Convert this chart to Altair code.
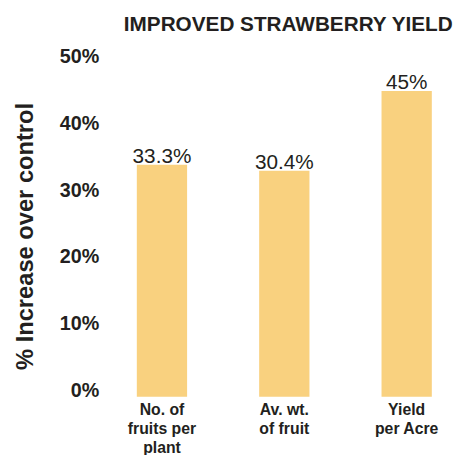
import altair as alt
import pandas as pd

categories = ["No. of|fruits per|plant", "Av. wt.|of fruit", "Yield|per Acre"]
bar_values = [34.7, 33.8, 45.7]
bar_labels = ["33.3%", "30.4%", "45%"]
y_ticks = [0, 10, 20, 30, 40, 50]

df = pd.DataFrame({"cat": categories, "value": bar_values, "label": bar_labels})

FONT = "Liberation Sans"
INK = "#231F20"

base = alt.Chart(df).encode(
    x=alt.X(
        "cat:N",
        sort=categories,
        scale=alt.Scale(paddingInner=0.589, paddingOuter=0.214),
        axis=alt.Axis(
            title=None,
            labelAngle=0,
            labelExpr="split(datum.label, '|')",
            labelFont=FONT,
            labelFontSize=16,
            labelFontWeight="bold",
            labelColor=INK,
            labelLineHeight=19,
            labelPadding=5,
            labelBaseline="top",
            ticks=False,
            domain=False,
        ),
    ),
    y=alt.Y(
        "value:Q",
        scale=alt.Scale(domain=[0, 50], nice=False),
        axis=alt.Axis(
            values=y_ticks,
            labelExpr="datum.value + '%'",
            title="% Increase over control",
            titleFont=FONT,
            titleFontSize=24,
            titleFontWeight="bold",
            titleColor=INK,
            titleBaseline="alphabetic",
            titleX=-79,
            titleY=176,
            labelFont=FONT,
            labelFontSize=20,
            labelFontWeight="bold",
            labelColor=INK,
            labelBaseline="alphabetic",
            labelPadding=12,
            ticks=False,
            domain=False,
            grid=False,
        ),
    ),
)

bars = base.mark_bar(color="#F9D17F")
text = base.mark_text(dy=-2, baseline="alphabetic", font=FONT, fontSize=21, color=INK).encode(
    text="label:N"
)

chart = (
    (bars + text)
    .properties(
        width=352,
        height=339,
        autosize="none",
        padding={"left": 104, "top": 52, "right": 0, "bottom": 58},
        title=alt.Title(
            "IMPROVED STRAWBERRY YIELD",
            font=FONT,
            fontSize=21,
            fontWeight="bold",
            color=INK,
            anchor="middle",
            frame="group",
            baseline="alphabetic",
            offset=-5,
            dx=4,
        ),
    )
    .configure_view(stroke=None)
)

chart.save("out.html", embed_options={"renderer": "svg", "actions": False})
